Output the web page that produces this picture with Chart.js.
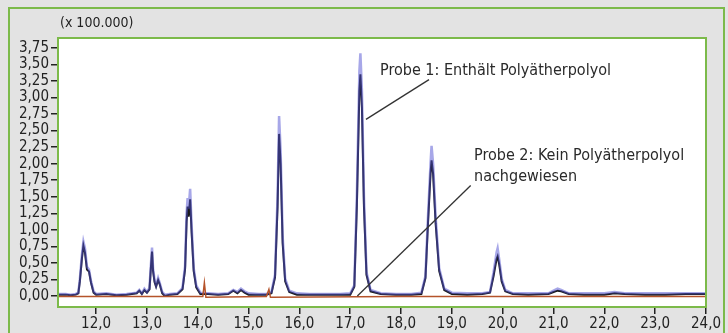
<!DOCTYPE html>
<html>
<head>
<meta charset="utf-8">
<script src="https://cdn.jsdelivr.net/npm/chart.js@4/dist/chart.umd.min.js"></script>
<style>
  html, body { margin: 0; padding: 0; background: #e3e3e3; }
  canvas { display: block; }
</style>
</head>
<body>
<canvas id="chrom" width="728" height="333"></canvas>
<script>
// retention time (min) for probe 1 traces
const timeP1 = [
  11.25, 11.4, 11.5, 11.6, 11.65, 11.68, 11.72, 11.75, 11.78, 11.82, 11.86, 11.9, 11.95, 12.0,
  12.2, 12.4, 12.6, 12.8, 12.85, 12.9, 12.95, 13.0, 13.05, 13.08, 13.1, 13.12, 13.15, 13.18,
  13.22, 13.25, 13.3, 13.35, 13.45, 13.6, 13.7, 13.75, 13.78, 13.8, 13.82, 13.85, 13.88, 13.92,
  13.97, 14.05, 14.2, 14.4, 14.6, 14.7, 14.78, 14.85, 14.92, 15.0, 15.2, 15.35, 15.45, 15.52,
  15.57, 15.6, 15.63, 15.67, 15.72, 15.8, 15.95, 16.2, 16.5, 16.8, 17.0, 17.08, 17.13, 17.18,
  17.2, 17.23, 17.27, 17.32, 17.4, 17.6, 17.9, 18.2, 18.4, 18.48, 18.53, 18.58, 18.6, 18.63,
  18.68, 18.75, 18.85, 19.0, 19.3, 19.6, 19.75, 19.82, 19.88, 19.9, 19.93, 19.98, 20.05, 20.2,
  20.5, 20.9, 21.0, 21.08, 21.15, 21.3, 21.6, 22.0, 22.2, 22.4, 22.8, 23.2, 23.6, 24.0
];
// probe 1, blue signal (x 100.000)
const probe1Blue = [
  0.03, 0.03, 0.02, 0.03, 0.05, 0.25, 0.62, 0.82, 0.72, 0.44, 0.4, 0.22, 0.07, 0.03,
  0.04, 0.02, 0.03, 0.05, 0.09, 0.04, 0.11, 0.06, 0.12, 0.5, 0.73, 0.42, 0.24, 0.16,
  0.27, 0.2, 0.06, 0.02, 0.03, 0.04, 0.12, 0.45, 1.25, 1.48, 1.32, 1.62, 1.05, 0.42,
  0.16, 0.05, 0.04, 0.03, 0.04, 0.09, 0.06, 0.11, 0.07, 0.04, 0.03, 0.03, 0.06, 0.32,
  1.5, 2.72, 2.2, 0.9, 0.26, 0.08, 0.04, 0.03, 0.03, 0.03, 0.04, 0.16, 1.5, 3.4,
  3.67, 3.1, 1.5, 0.36, 0.09, 0.04, 0.03, 0.03, 0.05, 0.3, 1.2, 2.0, 2.27, 2.0,
  1.2, 0.42, 0.11, 0.05, 0.04, 0.04, 0.06, 0.36, 0.66, 0.72, 0.56, 0.26, 0.09, 0.04,
  0.04, 0.04, 0.08, 0.11, 0.09, 0.04, 0.04, 0.04, 0.06, 0.04, 0.04, 0.04, 0.04, 0.04
];
// probe 1, black overlay (x 100.000)
const probe1Black = [
  0.02, 0.02, 0.01, 0.02, 0.04, 0.22, 0.56, 0.76, 0.66, 0.4, 0.37, 0.2, 0.05, 0.02,
  0.03, 0.01, 0.02, 0.04, 0.08, 0.03, 0.09, 0.05, 0.1, 0.45, 0.67, 0.38, 0.21, 0.14,
  0.24, 0.18, 0.04, 0.0, 0.02, 0.03, 0.1, 0.4, 1.12, 1.35, 1.2, 1.46, 0.95, 0.38,
  0.13, 0.03, 0.03, 0.02, 0.03, 0.08, 0.04, 0.09, 0.05, 0.02, 0.02, 0.02, 0.04, 0.28,
  1.35, 2.45, 2.0, 0.8, 0.22, 0.06, 0.02, 0.02, 0.02, 0.02, 0.02, 0.14, 1.35, 3.1,
  3.35, 2.85, 1.35, 0.32, 0.07, 0.03, 0.02, 0.02, 0.03, 0.27, 1.1, 1.85, 2.05, 1.85,
  1.1, 0.38, 0.09, 0.03, 0.02, 0.03, 0.05, 0.3, 0.56, 0.6, 0.48, 0.22, 0.07, 0.03,
  0.02, 0.03, 0.06, 0.08, 0.07, 0.03, 0.02, 0.02, 0.04, 0.03, 0.02, 0.02, 0.03, 0.03
];
// probe 2 trace: stays at baseline
const timeP2 = [11.25, 13.0, 14.1, 14.13, 14.16, 15.35, 15.4, 15.43, 18.0, 21.0, 24.0];
const probe2 = [-0.01, -0.01, -0.01, 0.2, -0.02, -0.01, 0.1, -0.02, -0.01, -0.01, -0.01];

const xTicks = [12, 13, 14, 15, 16, 17, 18, 19, 20, 21, 22, 23, 24];
const yTicks = [0, 0.25, 0.5, 0.75, 1, 1.25, 1.5, 1.75, 2, 2.25, 2.5, 2.75, 3, 3.25, 3.5, 3.75];

// annotation pointer lines (time, signal)
const pointer1 = [[18.55, 3.27], [17.31, 2.67]];
const pointer2 = [[19.37, 1.67], [17.14, 0.0]];
const label1 = ["Probe 1: Enthält Polyätherpolyol"];
const label2 = ["Probe 2: Kein Polyätherpolyol", "nachgewiesen"];

const GREEN = "#7cba4a";
const FONT = "'Liberation Sans Narrow', 'DejaVu Sans Condensed', sans-serif";

const toPts = (xs, ys) => xs.map((x, i) => ({ x: x, y: ys[i] }));

const framePlugin = {
  id: "frame",
  beforeDraw(chart) {
    const { ctx, chartArea: a } = chart;
    ctx.save();
    ctx.fillStyle = "#e3e3e3";
    ctx.fillRect(0, 0, chart.width, chart.height);
    ctx.strokeStyle = GREEN;
    ctx.lineWidth = 2;
    ctx.strokeRect(9, 8, 715, 340);
    ctx.fillStyle = "#fff";
    ctx.fillRect(a.left, a.top, a.right - a.left, a.bottom - a.top);
    ctx.fillStyle = "#222";
    ctx.font = "14px " + FONT;
    ctx.textBaseline = "alphabetic";
    ctx.fillText("(x 100.000)", 60, 27);
    ctx.restore();
  },
  afterDraw(chart) {
    const { ctx, chartArea: a } = chart;
    const xs = chart.scales.x, ys = chart.scales.y;
    ctx.save();
    ctx.strokeStyle = GREEN;
    ctx.lineWidth = 2;
    ctx.strokeRect(a.left, a.top, a.right - a.left, a.bottom - a.top);
    // pointer lines
    ctx.strokeStyle = "#333";
    ctx.lineWidth = 1.3;
    [pointer1, pointer2].forEach((p) => {
      ctx.beginPath();
      ctx.moveTo(xs.getPixelForValue(p[0][0]), ys.getPixelForValue(p[0][1]));
      ctx.lineTo(xs.getPixelForValue(p[1][0]), ys.getPixelForValue(p[1][1]));
      ctx.stroke();
    });
    ctx.fillStyle = "#2a2a2a";
    ctx.font = "16px " + FONT;
    ctx.textBaseline = "alphabetic";
    ctx.fillText(label1[0], 380, 75);
    ctx.fillText(label2[0], 474, 160);
    ctx.fillText(label2[1], 474, 181);
    ctx.restore();
  },
};

new Chart(document.getElementById("chrom"), {
  type: "scatter",
  data: {
    datasets: [
      {
        label: "Probe 2",
        data: toPts(timeP2, probe2),
        showLine: true,
        borderColor: "#b5532a",
        borderWidth: 1.5,
        pointRadius: 0,
      },
      {
        label: "Probe 1",
        data: toPts(timeP1, probe1Blue),
        showLine: true,
        borderColor: "rgba(80, 80, 210, 0.5)",
        borderWidth: 2.5,
        pointRadius: 0,
      },
      {
        label: "Probe 1 (overlay)",
        data: toPts(timeP1, probe1Black),
        showLine: true,
        borderColor: "#1a1a1a",
        borderWidth: 2,
        pointRadius: 0,
      },
    ],
  },
  options: {
    responsive: false,
    animation: false,
    layout: { padding: { left: 10, top: 38, right: 22, bottom: 0 } },
    plugins: { legend: { display: false }, tooltip: { enabled: false } },
    scales: {
      x: {
        type: "linear",
        min: 11.25,
        max: 24.0,
        afterBuildTicks: (s) => { s.ticks = xTicks.map((v) => ({ value: v })); },
        afterFit: (s) => { s.height = 26; },
        border: { display: false },
        grid: { drawOnChartArea: false, drawTicks: true, tickLength: 7, color: "#222", lineWidth: 1.5 },
        ticks: {
          autoSkip: false,
          maxRotation: 0,
          padding: 1,
          color: "#222",
          font: { family: FONT, size: 15 },
          callback: (v) => v.toFixed(1).replace(".", ","),
        },
      },
      y: {
        min: -0.167,
        max: 3.9,
        afterBuildTicks: (s) => { s.ticks = yTicks.map((v) => ({ value: v })); },
        afterFit: (s) => { s.width = 48; },
        border: { display: false },
        grid: { drawOnChartArea: false, drawTicks: true, tickLength: 7, color: "#222", lineWidth: 1.5 },
        ticks: {
          autoSkip: false,
          padding: 2,
          color: "#222",
          font: { family: FONT, size: 15 },
          callback: (v) => v.toFixed(2).replace(".", ","),
        },
      },
    },
  },
  plugins: [framePlugin],
});
</script>
</body>
</html>
